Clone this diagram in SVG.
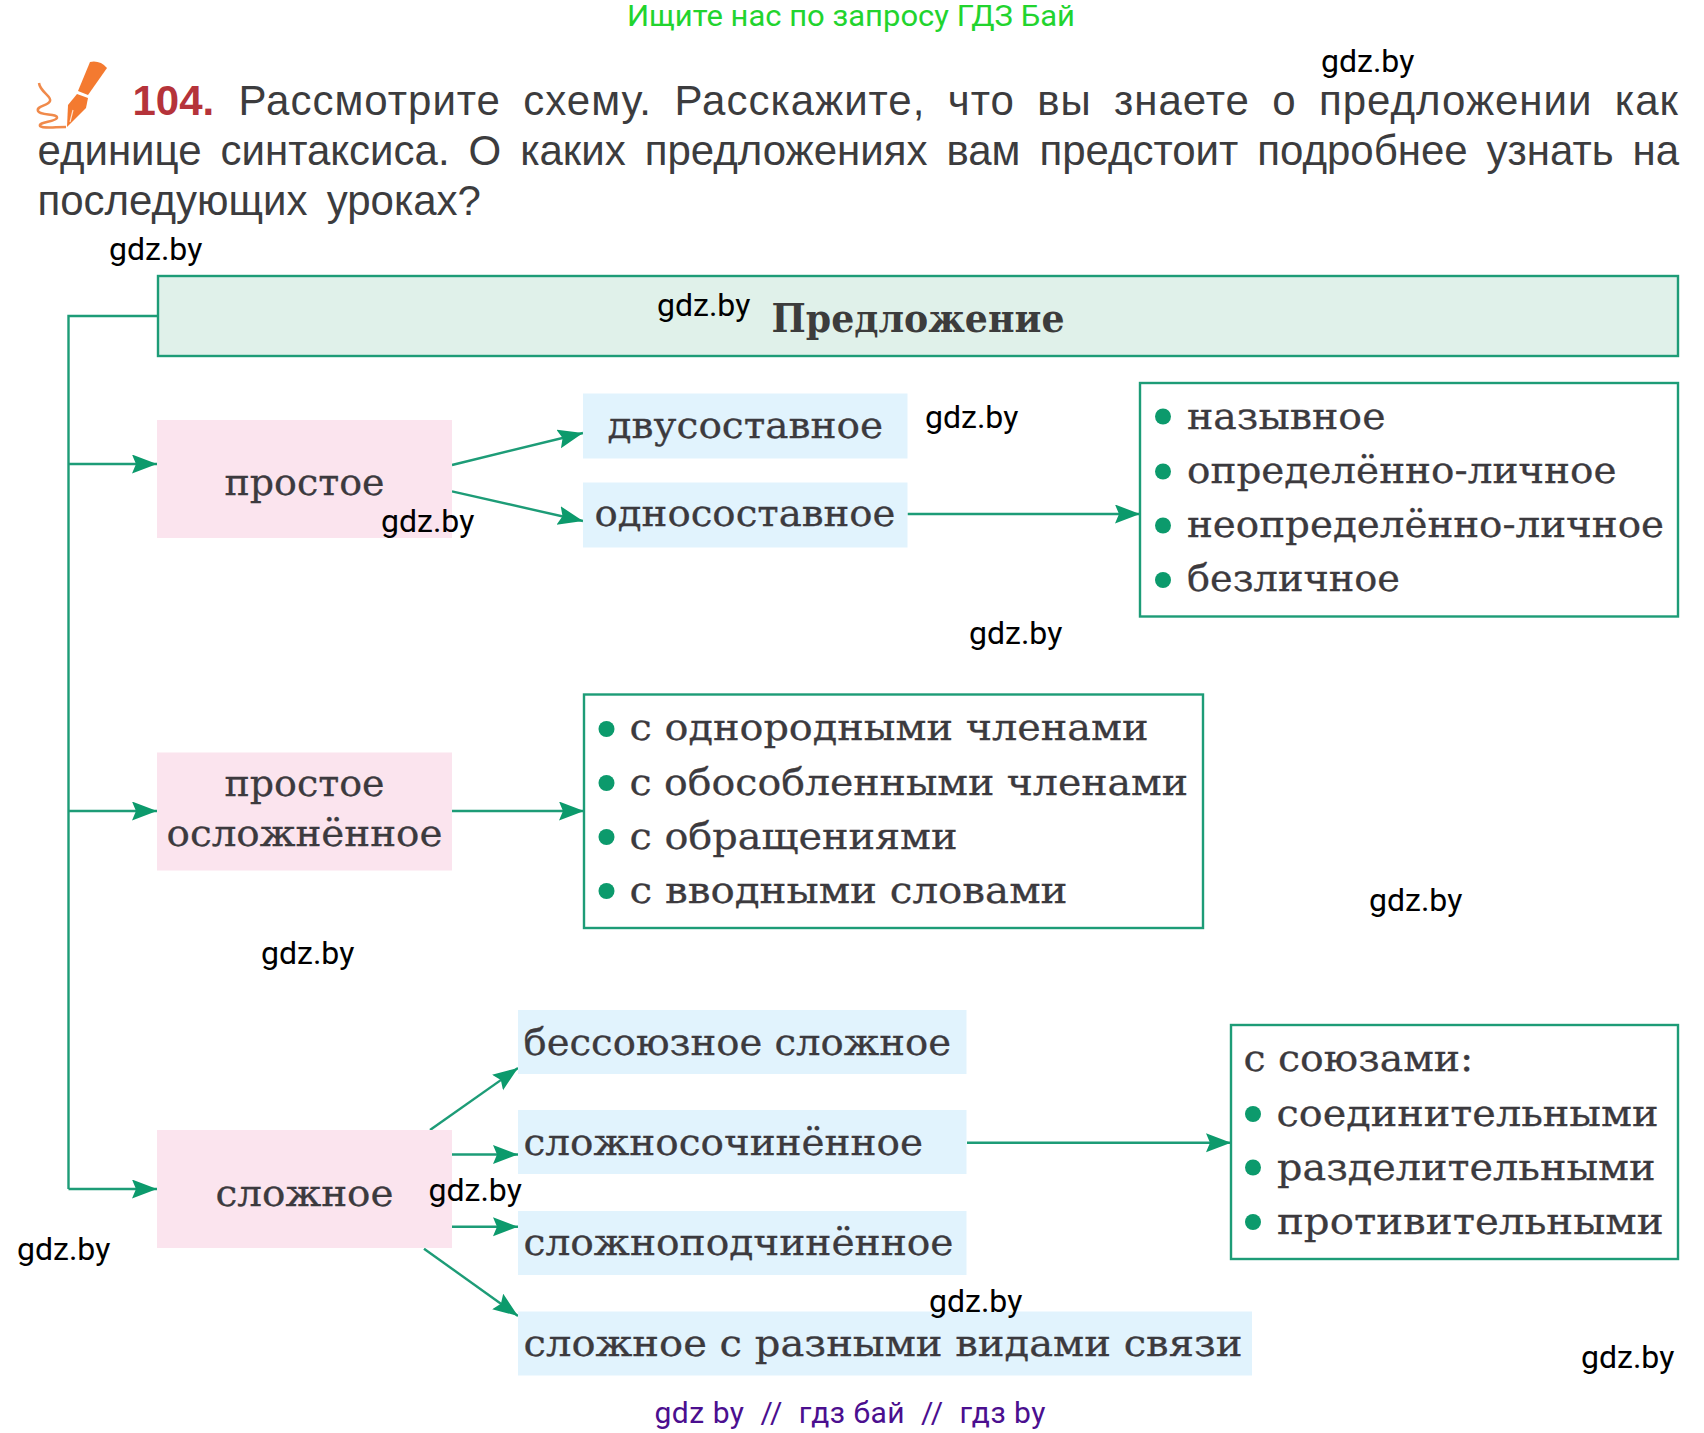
<svg xmlns="http://www.w3.org/2000/svg" width="1704" height="1433" viewBox="0 0 1704 1433">
<style>
.c{fill:none;stroke:#1d9c77;stroke-width:2.4}
.a{marker-end:url(#ah)}
.b{fill:#fff;stroke:#1d9c77;stroke-width:2.4}
.p{fill:#fbe4ee}
.l{fill:#e1f3fd}
.s{font-family:"DejaVu Serif","Liberation Serif",serif;font-size:38px;fill:#3c3a3e;stroke:#3c3a3e;stroke-width:.3}
.m{font-family:"Liberation Sans",Arial,sans-serif;font-size:42px;fill:#3c3c3e}
.w{font-family:Roboto,"Liberation Sans",sans-serif;font-size:32px;fill:#000}
.d{fill:#0c9a6c}
</style>
<defs>
<marker id="ah" markerUnits="userSpaceOnUse" markerWidth="26" markerHeight="20" refX="25" refY="9.500" orient="auto"><path d="M0 0L25 9.500L0 19L4 9.500Z" fill="#0c9a6c"/></marker>
</defs>
<rect width="1704" height="1433" fill="#fff"/>
<text x="627" y="26" font-family="Roboto,sans-serif" font-size="30" fill="#22d42e" textLength="448" lengthAdjust="spacingAndGlyphs">Ищите нас по запросу ГДЗ Бай</text>
<g id="pen">
<path d="M90 62Q100 60 107 68L88 95L78 91Z" fill="#f47a30"/>
<path d="M77 94L88 98L86 108L67 127L68 105Z" fill="#f47a30"/>
<path d="M70 122L73 110" fill="none" stroke="#fde3cf" stroke-width="1.200"/>
<path d="M39 83C40 92 52 96 50 101C48 106 36 106 38 111C40 116 58 113 57 118C55 122 38 122 40 126C43 129 55 127 66 127" fill="none" stroke="#f08a4b" stroke-width="2.500"/>
</g>
<g id="task">
<text x="132.500" y="115" font-family="Liberation Sans,sans-serif" font-size="42" font-weight="700" fill="#b5333a">104.</text>
<text class="m" x="238.500" y="115" letter-spacing="1" word-spacing="9.700">Рассмотрите схему. Расскажите, что вы знаете о предложении как</text>
<text class="m" x="37.500" y="165" word-spacing="7.300">единице синтаксиса. О каких предложениях вам предстоит подробнее узнать на</text>
<text class="m" x="37.500" y="215" word-spacing="7.400">последующих уроках?</text>
</g>
<g id="connectors">
<path class="c" d="M158 316H68.500V1189"/>
<path class="c a" d="M68.500 464H157"/>
<path class="c a" d="M68.500 811H157"/>
<path class="c a" d="M68.500 1189H157"/>
<path class="c a" d="M452 465L583 433"/>
<path class="c a" d="M452 491.400L583 521"/>
<path class="c a" d="M907.500 514H1140"/>
<path class="c a" d="M452 811H584"/>
<path class="c a" d="M430 1130L518 1068"/>
<path class="c a" d="M452 1154.500H518"/>
<path class="c a" d="M452 1226.700H518"/>
<path class="c a" d="M424 1248.700L518 1316"/>
<path class="c a" d="M967 1142.700H1231"/>
</g>
<g id="root"><rect x="158" y="276" width="1520" height="80" fill="#e0f1ea" stroke="#1d9c77" stroke-width="2.400"/>
<text x="771.500" y="332" font-family="DejaVu Serif,serif" font-size="40" font-weight="700" fill="#3c3c3c" textLength="293" lengthAdjust="spacingAndGlyphs">Предложение</text></g>
<g id="n-simple"><rect class="p" x="157" y="420" width="295" height="118"/><text class="s" x="224.500" y="495" textLength="160" lengthAdjust="spacingAndGlyphs">простое</text></g>
<g id="n-complicated"><rect class="p" x="157" y="752.500" width="295" height="118"/><text class="s" x="224.500" y="796" textLength="160" lengthAdjust="spacingAndGlyphs">простое</text><text class="s" x="166.500" y="846" textLength="276" lengthAdjust="spacingAndGlyphs">осложнённое</text></g>
<g id="n-compound"><rect class="p" x="157" y="1130" width="295" height="118"/><text class="s" x="215.500" y="1206" textLength="178" lengthAdjust="spacingAndGlyphs">сложное</text></g>
<g id="n-two"><rect class="l" x="583" y="393.500" width="324.500" height="65"/><text class="s" x="607.600" y="438" textLength="275.500" lengthAdjust="spacingAndGlyphs">двусоставное</text></g>
<g id="n-one"><rect class="l" x="583" y="482.500" width="324.500" height="65"/><text class="s" x="594.500" y="526" textLength="301" lengthAdjust="spacingAndGlyphs">односоставное</text></g>
<g id="n-list1"><rect class="b" x="1140" y="383" width="538" height="233.500"/>
<circle class="d" cx="1163" cy="416.500" r="8"/><circle class="d" cx="1163" cy="471.500" r="8"/><circle class="d" cx="1163" cy="525.500" r="8"/><circle class="d" cx="1163" cy="580" r="8"/>
<text class="s" x="1187" y="428.500" textLength="198.500" lengthAdjust="spacingAndGlyphs">назывное</text>
<text class="s" x="1187" y="482.500" textLength="429.500" lengthAdjust="spacingAndGlyphs">определённо-личное</text>
<text class="s" x="1187" y="536.500" textLength="477" lengthAdjust="spacingAndGlyphs">неопределённо-личное</text>
<text class="s" x="1187" y="591" textLength="213" lengthAdjust="spacingAndGlyphs">безличное</text></g>
<g id="n-list2"><rect class="b" x="584" y="694.500" width="619" height="233.500"/>
<circle class="d" cx="606.500" cy="729" r="8"/><circle class="d" cx="606.500" cy="783" r="8"/><circle class="d" cx="606.500" cy="837" r="8"/><circle class="d" cx="606.500" cy="891" r="8"/>
<text class="s" x="629.500" y="740" textLength="519" lengthAdjust="spacingAndGlyphs">с однородными членами</text>
<text class="s" x="629.500" y="794.500" textLength="558.500" lengthAdjust="spacingAndGlyphs">с обособленными членами</text>
<text class="s" x="629.500" y="849" textLength="328" lengthAdjust="spacingAndGlyphs">с обращениями</text>
<text class="s" x="629.500" y="903" textLength="438" lengthAdjust="spacingAndGlyphs">с вводными словами</text></g>
<g id="n-asyndetic"><rect class="l" x="518" y="1010" width="448.500" height="64"/><text class="s" x="523.500" y="1055" textLength="427.500" lengthAdjust="spacingAndGlyphs">бессоюзное сложное</text></g>
<g id="n-coord"><rect class="l" x="518" y="1110" width="448.500" height="64"/><text class="s" x="523.500" y="1155" textLength="399.500" lengthAdjust="spacingAndGlyphs">сложносочинённое</text></g>
<g id="n-sub"><rect class="l" x="518" y="1211" width="448.500" height="64"/><text class="s" x="523.500" y="1254.500" textLength="430" lengthAdjust="spacingAndGlyphs">сложноподчинённое</text></g>
<g id="n-mixed"><rect class="l" x="518" y="1311.500" width="734" height="64"/><text class="s" x="523.500" y="1355.500" textLength="719" lengthAdjust="spacingAndGlyphs">сложное с разными видами связи</text></g>
<g id="n-list3"><rect class="b" x="1231" y="1025" width="447" height="234"/>
<circle class="d" cx="1253" cy="1114" r="8"/><circle class="d" cx="1253" cy="1167.500" r="8"/><circle class="d" cx="1253" cy="1222" r="8"/>
<text class="s" x="1243.400" y="1071" textLength="230" lengthAdjust="spacingAndGlyphs">с союзами:</text>
<text class="s" x="1276.500" y="1125.500" textLength="382" lengthAdjust="spacingAndGlyphs">соединительными</text>
<text class="s" x="1277" y="1179.500" textLength="378.500" lengthAdjust="spacingAndGlyphs">разделительными</text>
<text class="s" x="1277" y="1234" textLength="386.500" lengthAdjust="spacingAndGlyphs">противительными</text></g>
<g id="watermarks">
<text class="w" x="109" y="260">gdz.by</text>
<text class="w" x="657" y="316">gdz.by</text>
<text class="w" x="1321" y="72">gdz.by</text>
<text class="w" x="925" y="428">gdz.by</text>
<text class="w" x="381" y="532">gdz.by</text>
<text class="w" x="969" y="644">gdz.by</text>
<text class="w" x="1369" y="911">gdz.by</text>
<text class="w" x="261" y="964">gdz.by</text>
<text class="w" x="17" y="1260">gdz.by</text>
<text class="w" x="428.500" y="1201">gdz.by</text>
<text class="w" x="929" y="1312">gdz.by</text>
<text class="w" x="1581" y="1368">gdz.by</text>
</g>
<text x="654.500" y="1423" font-family="Roboto,sans-serif" font-size="30" fill="#4b0f8f" textLength="391" lengthAdjust="spacing" xml:space="preserve">gdz by  //  гдз бай  //  гдз by</text>
</svg>
